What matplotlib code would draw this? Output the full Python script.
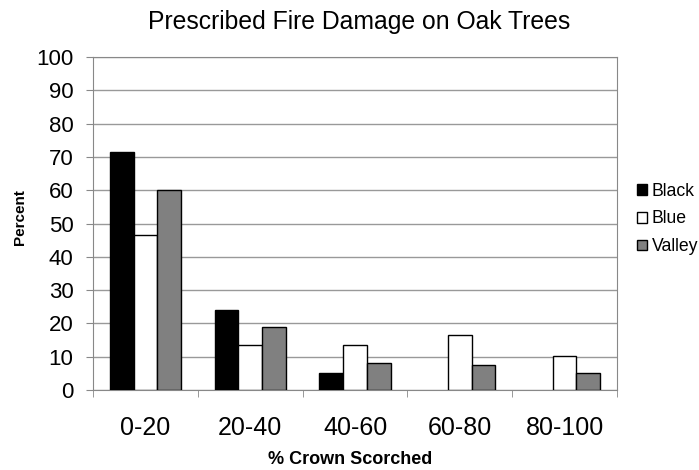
import numpy as np
from matplotlib import pyplot as plt

plt.rcParams['font.family'] = ['Liberation Sans', 'DejaVu Sans']

# data
categories = ['0-20', '20-40', '40-60', '60-80', '80-100']
black = [71.5, 24.0, 5.2, 0, 0]
blue = [46.4, 13.4, 13.4, 16.5, 10.3]
valley = [60.0, 19.0, 8.2, 7.5, 5.0]

x = np.arange(len(categories))
w = 0.227

fig = plt.figure(figsize=(6.99, 4.70), dpi=100)
ax = fig.add_axes([93 / 699, 80 / 470, 524 / 699, 333 / 470])

groups = []
groups.append(ax.bar(x - w, black, w, color='black', edgecolor='black',
                     linewidth=1, label='Black', zorder=3))
groups.append(ax.bar(x, blue, w, color='white', edgecolor='black',
                     linewidth=1, label='Blue', zorder=3))
groups.append(ax.bar(x + w, valley, w, color='#808080', edgecolor='black',
                     linewidth=1, label='Valley', zorder=3))
# empty bars leave no outline on the axis
for g in groups:
    for rect in g.patches:
        if rect.get_height() == 0:
            rect.set_linewidth(0)

ax.set_xlim(-0.5, len(categories) - 0.5)
ax.set_ylim(0, 100)
ax.set_yticks(range(0, 101, 10))
ax.yaxis.grid(True, color='#999999', linewidth=1)
ax.set_axisbelow(True)

ax.set_xticks(x)
ax.set_xticklabels(categories)
ax.set_xticks(np.arange(-0.5, len(categories)), minor=True)
ax.tick_params(axis='x', which='major', length=0, pad=19, labelsize=18)
ax.tick_params(axis='x', which='minor', length=5, color='#888888')
ax.tick_params(axis='y', length=5, color='#888888', labelsize=16, pad=9)
for s in ax.spines.values():
    s.set_color('#888888')

fig.text(359 / 699, 1 - 22 / 470, 'Prescribed Fire Damage on Oak Trees',
         ha='center', va='center', fontsize=17.8)
fig.text(350 / 699, 1 - 460 / 470, '% Crown Scorched', ha='center',
         va='center', fontsize=13, fontweight='bold')
fig.text(20 / 699, 1 - 217 / 470, 'Percent', ha='center', va='center',
         rotation=90, fontsize=11, fontweight='bold')

fig.legend(loc='center left', bbox_to_anchor=(628 / 699, 1 - 219 / 470),
           frameon=False, fontsize=12.7, handlelength=0.55, handleheight=0.55,
           handletextpad=0.3, labelspacing=0.6, borderpad=0)

fig.savefig('out.png', dpi=100)
